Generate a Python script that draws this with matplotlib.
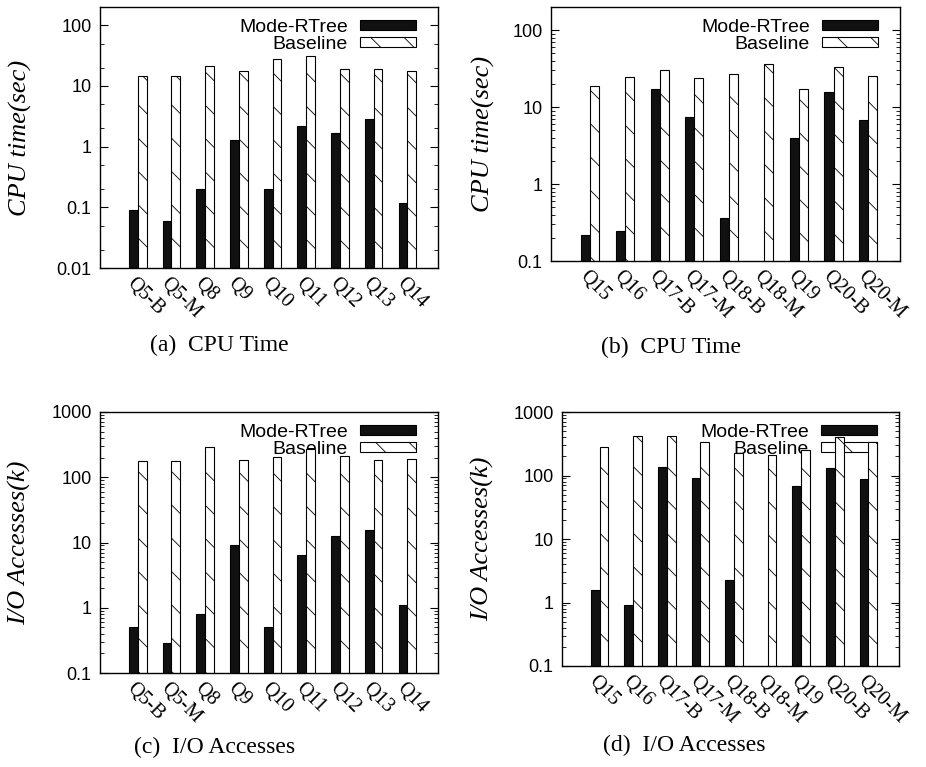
import numpy as np
import matplotlib
matplotlib.use("Agg")
import matplotlib.pyplot as plt
import matplotlib.ticker as ticker
import matplotlib.transforms as mtransforms

plt.rcParams.update({"hatch.linewidth": 0.6, "axes.linewidth": 1.0})

# ── Data ──────────────────────────────────────────────────────────────────────

QUERIES_A = ["Q5-B", "Q5-M", "Q8", "Q9", "Q10", "Q11", "Q12", "Q13", "Q14"]
QUERIES_B = ["Q15", "Q16", "Q17-B", "Q17-M", "Q18-B", "Q18-M", "Q19", "Q20-B", "Q20-M"]

CPU_MODE_A = [0.09, 0.06, 0.2, 1.3, 0.2, 2.2, 1.7, 2.9, 0.12]
CPU_BASE_A = [14.8, 14.8, 21.4, 17.9, 28.2, 31.2, 19.1, 19.1, 17.9]
CPU_MODE_B = [0.22, 0.245, 17.4, 7.4, 0.36, np.nan, 4.0, 15.6, 6.7]
CPU_BASE_B = [18.9, 24.9, 30.7, 24.2, 27.0, 36.3, 17.3, 33.6, 25.1]

IO_MODE_A = [0.51, 0.285, 0.79, 9.0, 0.5, 6.5, 12.6, 15.6, 1.1]
IO_BASE_A = [180, 180, 288, 184, 202, 272, 209, 184, 189]
IO_MODE_B = [1.58, 0.92, 134, 90, 2.27, np.nan, 67.6, 132, 86.5]
IO_BASE_B = [279, 415, 415, 342, 227, 211, 250, 405, 338]

W, H = 926, 767
BAR_W = 0.26
SERIF = "Liberation Serif"
SANS = "Liberation Sans"

# (pixel box: left, top, right, bottom), ylim, minor subs, ylabel x, ylabel, caption, caption centre
PANELS = [
    ((100, 7, 438, 268), QUERIES_A, CPU_MODE_A, CPU_BASE_A, (0.01, 200), (2, 5), 20,
     "CPU time(sec)", "(a)  CPU Time", (219, 345)),
    ((551, 7, 900, 261), QUERIES_B, CPU_MODE_B, CPU_BASE_B, (0.1, 200), None, 483,
     "CPU time(sec)", "(b)  CPU Time", (671, 347)),
    ((100, 412, 438, 673), QUERIES_A, IO_MODE_A, IO_BASE_A, (0.1, 1000), None, 20,
     "I/O Accesses(k)", "(c)  I/O Accesses", (215, 747)),
    ((562, 412, 899, 666), QUERIES_B, IO_MODE_B, IO_BASE_B, (0.1, 1000), None, 483,
     "I/O Accesses(k)", "(d)  I/O Accesses", (684, 745)),
]


fig = plt.figure(figsize=(W / 100, H / 100), dpi=100)

for box, labels, mode, base, ylim, subs, ylab_x, ylabel, caption, cap_xy in PANELS:
    l, t, r, b = box
    ax = fig.add_axes([l / W, 1 - b / H, (r - l) / W, (b - t) / H])
    x = np.arange(len(labels))

    ax.bar(x - BAR_W / 2, mode, width=BAR_W, color="#111111", edgecolor="black",
           linewidth=0.8, label="Mode-RTree", zorder=2)
    ax.bar(x + BAR_W / 2, base, width=BAR_W, color="white", edgecolor="black",
           linewidth=0.8, hatch="\\", label="Baseline", zorder=2)

    ax.set_yscale("log")
    ax.set_ylim(*ylim)
    ax.set_xlim(-1.12, len(labels) - 0.09)
    ax.yaxis.set_major_formatter(ticker.FuncFormatter(lambda v, p: f"{v:g}"))
    minor_subs = subs if subs is not None else np.arange(2, 10)
    ax.yaxis.set_minor_locator(ticker.LogLocator(subs=minor_subs, numticks=20))
    ax.yaxis.set_minor_formatter(ticker.NullFormatter())
    ax.tick_params(axis="y", which="major", direction="in", length=6, width=0.8,
                   right=True, labelsize=13, pad=6)
    ax.tick_params(axis="y", which="minor", direction="in", length=3, width=0.6,
                   right=True)
    for lab in ax.get_yticklabels():
        lab.set_fontfamily(SANS)

    ax.set_xticks(x)
    ax.set_xticklabels(labels, rotation=-45, ha="left", va="center",
                       rotation_mode="anchor", fontfamily=SERIF, fontsize=14.5)
    ax.tick_params(axis="x", length=0, pad=9)
    offset = mtransforms.ScaledTranslation(-8 / 100, 0, fig.dpi_scale_trans)
    for lab in ax.get_xticklabels():
        lab.set_transform(lab.get_transform() + offset)

    # legend sits under the bars, as in the original (bars cover it in c/d)
    leg = ax.legend(loc="upper right", bbox_to_anchor=(1 - 22 / (r - l), 1 - 12 / (b - t)),
                    frameon=False, markerfirst=False, borderpad=0, borderaxespad=0,
                    handlelength=2.9, handleheight=0.45, handletextpad=0.6,
                    labelspacing=0.0, prop={"family": SANS, "size": 14})
    leg.set_zorder(1)

    fig.text(ylab_x / W, 1 - (t + b) / 2 / H, ylabel, rotation=90, ha="center",
             va="center", fontfamily=SERIF, style="italic", fontsize=19)
    fig.text(cap_xy[0] / W, 1 - cap_xy[1] / H, caption, ha="center", va="center",
             fontfamily=SERIF, fontsize=17)

fig.savefig("out.png", dpi=100)
